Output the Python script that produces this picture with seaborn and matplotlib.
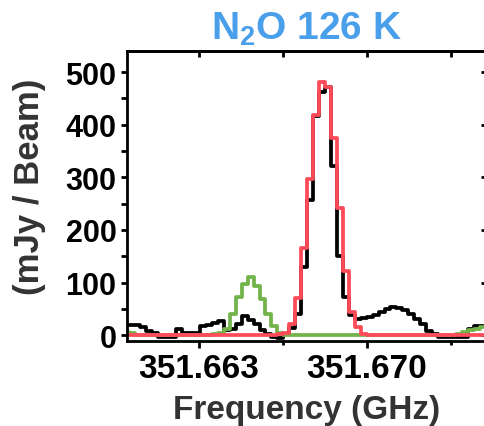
import numpy as np
import pandas as pd
import seaborn as sns
import matplotlib
matplotlib.use('Agg')
import matplotlib.pyplot as plt
from matplotlib.ticker import FixedLocator, FormatStrFormatter

# spectral channels (GHz): reference channel + channel width
chan_ref = 351.666638
chan_width = 0.000248
chan_index = np.arange(-27, 34)
freq = chan_ref + chan_index * chan_width

# observed spectrum (mJy / Beam)
obs = [20, 20, 19, 15, 8, 5, -4, -4, -4, 11, 4, 4, 5, 17, 19, 24, 27, 10, 12, 22,
       36, 28, 22, 10, 3, -4, -5,
       2, 13, 40, 129, 257, 417, 462, 471, 322, 151, 72, 38, 30, 33, 35, 38, 44,
       50, 53, 51, 47, 41, 31, 21, 8, 2, -3, -3, -3, -3, -3, 12, 18, 18]

# N2O model
n2o = [0] * 26 + [2,
       5, 21, 70, 165, 297, 418, 482, 471, 374, 241, 122, 45, 15, 3] + [0] * 20

# neighbouring line model
other = [6, 5] + [0] * 13 + [2, 5, 11, 40, 72, 98, 110, 94, 68, 40, 18, 5] + \
        [0] * 28 + [1, 3, 6, 9, 12, 15]

df = pd.DataFrame({'freq': freq, 'obs': obs, 'n2o': n2o, 'other': other})

sns.set_theme(style='ticks', rc={'axes.edgecolor': 'black', 'axes.linewidth': 2,
                                 'xtick.color': 'black', 'ytick.color': 'black'})
plt.rcParams['font.family'] = ['Liberation Sans', 'DejaVu Sans']
plt.rcParams['font.weight'] = 'bold'
plt.rcParams['mathtext.fontset'] = 'custom'
plt.rcParams['mathtext.rm'] = 'Liberation Sans:bold'
plt.rcParams['mathtext.it'] = 'Liberation Sans:bold'
plt.rcParams['mathtext.bf'] = 'Liberation Sans:bold'

fig = plt.figure(figsize=(4.84, 4.27), dpi=100)
ax = fig.add_axes([127 / 484, 85 / 427, 360 / 484, 290 / 427])

sns.lineplot(data=df, x='freq', y='obs', color='black', lw=2.7,
             drawstyle='steps-mid', estimator=None, ax=ax)
sns.lineplot(data=df, x='freq', y='other', color='#72B34A', lw=2.7,
             drawstyle='steps-mid', estimator=None, ax=ax)
sns.lineplot(data=df, x='freq', y='n2o', color='#FF4A5A', lw=2.7,
             drawstyle='steps-mid', estimator=None, ax=ax)

ax.set_xlim(351.660, 351.675)
ax.set_ylim(-11, 540)

ax.xaxis.set_major_locator(FixedLocator([351.663, 351.670]))
ax.xaxis.set_minor_locator(FixedLocator([351.6595, 351.6665, 351.6735]))
ax.xaxis.set_major_formatter(FormatStrFormatter('%.3f'))
ax.yaxis.set_major_locator(FixedLocator([0, 100, 200, 300, 400, 500]))
ax.yaxis.set_minor_locator(FixedLocator([50, 150, 250, 350, 450]))

ax.tick_params(axis='x', which='major', direction='out', length=5, width=2,
               labelsize=24, pad=4)
ax.tick_params(axis='x', which='minor', direction='out', length=3, width=2)
ax.tick_params(axis='y', which='major', direction='out', length=4.5, width=2,
               labelsize=22, pad=3)
ax.tick_params(axis='y', which='minor', direction='out', length=4, width=2)

top = ax.secondary_xaxis('top')
top.xaxis.set_major_locator(FixedLocator([351.663, 351.670]))
top.xaxis.set_minor_locator(FixedLocator([351.6595, 351.6665, 351.6735]))
top.tick_params(which='both', direction='in', length=4, width=2, labeltop=False)

right = ax.secondary_yaxis('right')
right.yaxis.set_major_locator(FixedLocator([0, 100, 200, 300, 400, 500]))
right.yaxis.set_minor_locator(FixedLocator([50, 150, 250, 350, 450]))
right.tick_params(which='major', direction='in', length=4.5, width=2, labelright=False)
right.tick_params(which='minor', direction='in', length=2.5, width=2)

ax.set_xlabel('Frequency (GHz)', fontsize=24, fontweight='bold', color='#333333')
ax.set_ylabel('(mJy / Beam)', fontsize=25, fontweight='bold', color='#333333')
ax.xaxis.set_label_coords(0.5, -0.183)
ax.yaxis.set_label_coords(-0.225, 0.535)

fig.text(307 / 484, (427 - 40) / 427, r'N$_{2}$O 126 K', color='#4A9FEA',
         fontsize=28, fontweight='bold', ha='center', va='baseline')

fig.savefig('out.png', dpi=100)
